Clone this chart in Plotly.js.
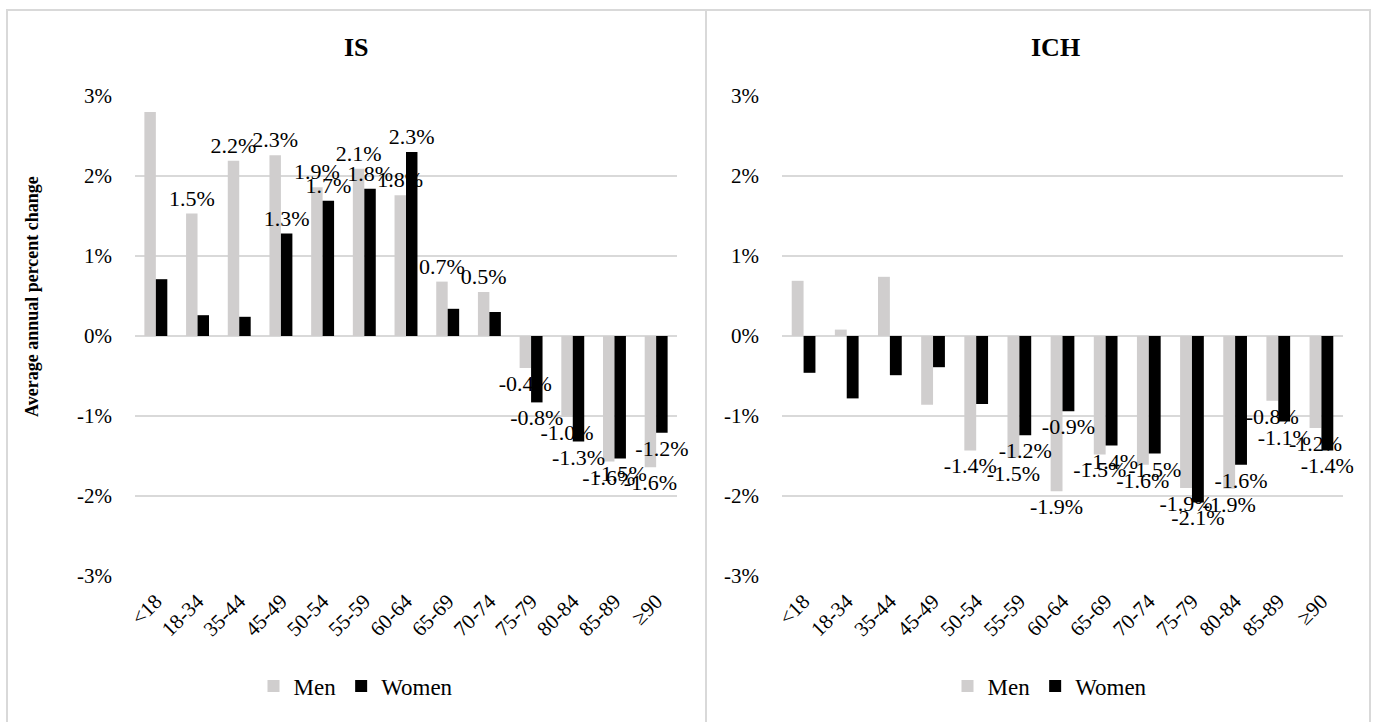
<!DOCTYPE html>
<html>
<head>
<meta charset="utf-8">
<script src="https://cdn.plot.ly/plotly-3.0.1.min.js"></script>
<style>html,body{margin:0;padding:0;background:#fff;}#chart{width:1376px;height:722px;}</style>
</head>
<body>
<div id="chart"></div>
<script>
const categories = ['<18','18-34','35-44','45-49','50-54','55-59','60-64','65-69','70-74','75-79','80-84','85-89','≥90'];

const menIS   = [2.80, 1.53, 2.19, 2.26, 1.86, 2.09, 1.76, 0.68, 0.55, -0.40, -1.01, -1.57, -1.64];
const womenIS = [0.71, 0.26, 0.24, 1.28, 1.69, 1.84, 2.30, 0.34, 0.30, -0.83, -1.32, -1.53, -1.21];
const menISLabels   = ['', '1.5%', '2.2%', '2.3%', '1.9%', '2.1%', '1.8%', '0.7%', '0.5%', '-0.4%', '-1.0%', '-1.6%', '-1.6%'];
const womenISLabels = ['', '', '', '1.3%', '1.7%', '1.8%', '2.3%', '', '', '-0.8%', '-1.3%', '-1.5%', '-1.2%'];

const menICH   = [0.69, 0.08, 0.74, -0.86, -1.43, -1.52, -1.94, -1.48, -1.61, -1.90, -1.91, -0.81, -1.15];
const womenICH = [-0.46, -0.78, -0.49, -0.39, -0.85, -1.24, -0.94, -1.37, -1.47, -2.08, -1.61, -1.07, -1.43];
const menICHLabels   = ['', '', '', '', '-1.4%', '-1.5%', '-1.9%', '-1.5%', '-1.6%', '-1.9%', '-1.9%', '-0.8%', '-1.2%'];
const womenICHLabels = ['', '', '', '', '', '-1.2%', '-0.9%', '-1.4%', '-1.5%', '-2.1%', '-1.6%', '-1.1%', '-1.4%'];

const yTickVals = [-3, -2, -1, 0, 1, 2, 3];
const yTickText = ['-3%', '-2%', '-1%', '0%', '1%', '2%', '3%'];

const seriesNames = ['Men', 'Women'];
const panelTitles = ['IS', 'ICH'];
const yTitle = 'Average annual percent change';

const FONT = 'Liberation Serif, Times New Roman, serif';
const MEN_COLOR = '#d0cece';
const WOMEN_COLOR = '#000000';
const GRID = '#d9d9d9';
const W = 1376, H = 722;
const px = v => v / W;
const py = v => 1 - v / H;

function barTrace(name, y, labels, color, xa, ya, legend) {
  return {
    type: 'bar', name: name, x: categories, y: y, text: labels,
    textposition: 'outside', constraintext: 'none', cliponaxis: false,
    textfont: {family: FONT, size: 22, color: '#000'},
    marker: {color: color, line: {width: 0}},
    xaxis: xa, yaxis: ya, legend: legend, hoverinfo: 'x+y'
  };
}

const data = [
  barTrace(seriesNames[0], menIS, menISLabels, MEN_COLOR, 'x', 'y', 'legend'),
  barTrace(seriesNames[1], womenIS, womenISLabels, WOMEN_COLOR, 'x', 'y', 'legend'),
  barTrace(seriesNames[0], menICH, menICHLabels, MEN_COLOR, 'x2', 'y2', 'legend2'),
  barTrace(seriesNames[1], womenICH, womenICHLabels, WOMEN_COLOR, 'x2', 'y2', 'legend2')
];

const yDomain = [py(576), py(96)];

function xAxis(domain, anchor) {
  return {
    domain: domain, anchor: anchor, type: 'category',
    tickangle: -45, showgrid: false, showline: false, zeroline: false,
    ticks: '', ticklabelstandoff: 8,
    tickfont: {family: FONT, size: 21, color: '#000'}, fixedrange: true
  };
}
function yAxis(anchor) {
  return {
    domain: yDomain, anchor: anchor, range: [-3, 3],
    tickvals: yTickVals, ticktext: yTickText,
    showgrid: true, gridcolor: GRID, gridwidth: 1.5,
    zeroline: true, zerolinecolor: GRID, zerolinewidth: 1.5,
    showline: false, ticks: '', ticklabelstandoff: 22,
    tickfont: {family: FONT, size: 21, color: '#000'}, fixedrange: true
  };
}

const layout = {
  width: W, height: H,
  margin: {l: 0, r: 0, t: 0, b: 0},
  paper_bgcolor: '#fff', plot_bgcolor: '#fff',
  barmode: 'group', bargap: 0.45, bargroupgap: 0,
  xaxis: xAxis([px(135), px(677)], 'y'),
  yaxis: yAxis('x'),
  xaxis2: xAxis([px(782), px(1343)], 'y2'),
  yaxis2: yAxis('x2'),
  showlegend: true,
  legend: {
    orientation: 'h', x: px(356), xanchor: 'center', y: py(686), yanchor: 'middle',
    font: {family: FONT, size: 23, color: '#000'}, bgcolor: 'rgba(0,0,0,0)',
    itemwidth: 30, tracegroupgap: 0
  },
  legend2: {
    orientation: 'h', x: px(1050), xanchor: 'center', y: py(686), yanchor: 'middle',
    font: {family: FONT, size: 23, color: '#000'}, bgcolor: 'rgba(0,0,0,0)',
    itemwidth: 30, tracegroupgap: 0
  },
  annotations: [
    {text: '<b>' + panelTitles[0] + '</b>', xref: 'paper', yref: 'paper', x: px(356), y: py(47),
     showarrow: false, xanchor: 'center', yanchor: 'middle', font: {family: FONT, size: 26, color: '#000'}},
    {text: '<b>' + panelTitles[1] + '</b>', xref: 'paper', yref: 'paper', x: px(1055), y: py(47),
     showarrow: false, xanchor: 'center', yanchor: 'middle', font: {family: FONT, size: 26, color: '#000'}},
    {text: '<b>' + yTitle + '</b>', xref: 'paper', yref: 'paper', x: px(32), y: py(297),
     showarrow: false, xanchor: 'center', yanchor: 'middle', textangle: -90,
     font: {family: FONT, size: 18, color: '#000'}}
  ],
  shapes: [
    {type: 'rect', xref: 'paper', yref: 'paper', x0: px(7), x1: px(706), y0: -0.05, y1: py(10),
     line: {color: GRID, width: 2}, layer: 'below'},
    {type: 'rect', xref: 'paper', yref: 'paper', x0: px(706), x1: px(1370), y0: -0.05, y1: py(10),
     line: {color: GRID, width: 2}, layer: 'below'}
  ]
};

Plotly.newPlot('chart', data, layout, {displayModeBar: false, staticPlot: true});
</script>
</body>
</html>
